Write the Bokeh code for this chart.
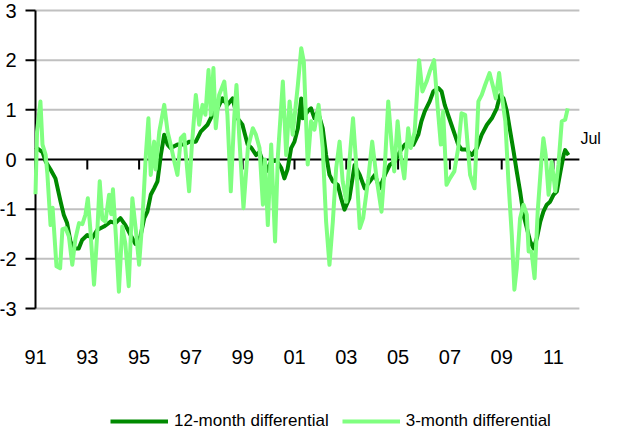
from bokeh.plotting import figure
from bokeh.models import Range1d, Label, Legend, LegendItem
from bokeh.core.properties import value
from bokeh.embed import file_html
from bokeh.resources import INLINE

# ---------------- data ----------------
series_names = ["12-month differential", "3-month differential"]
tick_labels = ["91", "93", "95", "97", "99", "01", "03", "05", "07", "09", "11"]
first_year = 1991
last_year = 2012
y_ticks = [-3, -2, -1, 0, 1, 2, 3]
y_tick_labels = ["-3", "-2", "-1", "0", "1", "2", "3"]
end_label = "Jul"
end_label_value = 0.42

# 12-month differential (decimal year, value)
dark_t = [1991.00, 1991.27, 1991.39, 1991.58, 1991.77, 1991.97,
          1992.09, 1992.22, 1992.35, 1992.48, 1992.67, 1992.80,
          1993.00, 1993.19, 1993.38, 1993.64, 1993.90,
          1994.09, 1994.28, 1994.47, 1994.67, 1994.86,
          1995.05, 1995.20, 1995.32, 1995.45, 1995.58, 1995.71, 1995.84, 1995.97,
          1996.10, 1996.22, 1996.48, 1996.74, 1996.95,
          1997.19, 1997.38, 1997.64, 1997.83,
          1998.03, 1998.22, 1998.41, 1998.61, 1998.80, 1998.99,
          1999.19, 1999.34, 1999.52, 1999.65, 1999.77, 1999.91,
          2000.10, 2000.31, 2000.49, 2000.61, 2000.73, 2000.87,
          2001.00, 2001.13, 2001.26, 2001.32, 2001.51, 2001.64, 2001.77, 2001.90,
          2002.09, 2002.22, 2002.35, 2002.48, 2002.67, 2002.80, 2002.93,
          2003.12, 2003.32, 2003.52, 2003.71, 2003.91,
          2004.10, 2004.29, 2004.49, 2004.68, 2004.87,
          2005.07, 2005.26, 2005.45, 2005.59, 2005.78, 2005.90,
          2006.03, 2006.22, 2006.36, 2006.55, 2006.68, 2006.80, 2006.93,
          2007.06, 2007.19, 2007.32, 2007.46, 2007.64, 2007.85,
          2008.04, 2008.23, 2008.43, 2008.62, 2008.81, 2008.94,
          2009.07, 2009.20, 2009.33, 2009.46, 2009.58, 2009.71, 2009.84, 2009.97,
          2010.10, 2010.23, 2010.36, 2010.49, 2010.61, 2010.74, 2010.87,
          2011.00, 2011.13, 2011.27, 2011.39, 2011.45, 2011.58]
dark_v = [0.25, 0.15, -0.04, -0.20, -0.38, -0.85,
          -1.11, -1.28, -1.65, -1.79, -1.79, -1.62,
          -1.52, -1.58, -1.42, -1.35, -1.25,
          -1.28, -1.18, -1.32, -1.52, -1.70,
          -1.55, -1.18, -1.05, -0.71, -0.58, -0.44, 0.09, 0.50,
          0.30, 0.23, 0.30, 0.30, 0.36,
          0.36, 0.56, 0.70, 0.90,
          1.03, 1.23, 1.10, 1.23, 0.83, 0.70,
          0.30, 0.23, 0.09, 0.15, -0.04, -0.24,
          -0.04, -0.02, -0.17, -0.38, -0.20, 0.23,
          0.36, 0.63, 1.23, 0.83, 0.97, 1.03, 0.83, 0.97,
          0.63, 0.09, -0.31, -0.44, -0.51, -0.78, -1.01,
          -0.78, -0.11, -0.31, -0.58, -0.44,
          -0.31, -0.58, -0.31, -0.11, -0.04,
          0.16, 0.30, 0.36, 0.30, 0.50, 0.77,
          0.97, 1.17, 1.37, 1.44, 1.37, 1.10, 0.90,
          0.70, 0.50, 0.30, 0.20, 0.20, 0.09,
          0.23, 0.50, 0.70, 0.83, 1.03, 1.30,
          1.23, 0.97, 0.56, 0.16, -0.24, -0.64, -1.11, -1.38,
          -1.65, -1.79, -1.58, -1.25, -1.05, -0.91, -0.85,
          -0.71, -0.64, -0.24, 0.09, 0.19, 0.09]

# 3-month differential (decimal year, value)
light_t = [1991.00, 1991.06, 1991.19, 1991.27, 1991.39, 1991.46, 1991.58, 1991.66, 1991.81, 1991.95,
           1992.04, 1992.16, 1992.29, 1992.42, 1992.54, 1992.68, 1992.81, 1992.93,
           1993.02, 1993.12, 1993.26, 1993.38, 1993.48, 1993.58, 1993.70, 1993.84, 1993.92, 1993.99,
           1994.11, 1994.22, 1994.35, 1994.47, 1994.60, 1994.74, 1994.88,
           1995.00, 1995.13, 1995.26, 1995.36, 1995.45, 1995.58, 1995.64, 1995.78, 1995.97,
           1996.10, 1996.22, 1996.36, 1996.48, 1996.61, 1996.74, 1996.93,
           1997.03, 1997.19, 1997.32, 1997.45, 1997.56, 1997.68, 1997.77, 1997.87, 1997.96,
           1998.09, 1998.29, 1998.41, 1998.54, 1998.67, 1998.76, 1998.87,
           1999.03, 1999.20, 1999.39, 1999.51, 1999.65, 1999.78, 1999.86, 1999.97,
           2000.10, 2000.25, 2000.36, 2000.55, 2000.68, 2000.81, 2000.93,
           2001.13, 2001.26, 2001.36, 2001.51, 2001.64, 2001.77, 2001.93,
           2002.09, 2002.22, 2002.35, 2002.48, 2002.61, 2002.74, 2002.86,
           2003.00, 2003.12, 2003.26, 2003.37, 2003.52, 2003.65, 2003.85,
           2004.00, 2004.17, 2004.36, 2004.49, 2004.62, 2004.75, 2004.85, 2004.98,
           2005.10, 2005.24, 2005.39, 2005.49, 2005.64, 2005.81, 2005.94,
           2006.10, 2006.22, 2006.39, 2006.52, 2006.65, 2006.74, 2006.87,
           2007.00, 2007.17, 2007.32, 2007.45, 2007.59, 2007.78, 2007.95,
           2008.10, 2008.23, 2008.36, 2008.53, 2008.68, 2008.77, 2008.90,
           2009.00, 2009.14, 2009.26, 2009.39, 2009.49, 2009.58, 2009.71, 2009.84, 2009.97,
           2010.04, 2010.15, 2010.27, 2010.39, 2010.53, 2010.61, 2010.70, 2010.81, 2010.93,
           2011.07, 2011.19, 2011.32, 2011.45, 2011.55]
light_v = [-0.70, 0.56, 1.17, 0.30, 0.10, -0.30, -1.32, -0.97, -2.15, -2.19,
           -1.40, -1.38, -1.55, -2.12, -1.60, -1.28, -1.30, -1.11,
           -0.78, -1.42, -2.52, -1.52, -0.44, -1.20, -1.25, -0.71, -1.10, -0.60,
           -1.60, -2.66, -1.35, -1.70, -2.55, -0.78, -1.45,
           -2.12, -1.20, 0.09, 0.83, -0.31, 0.36, -0.20, 0.56, 1.10,
           0.56, 0.30, -0.04, -0.31, 0.43, 0.50, -0.64,
           0.23, 1.30, 0.70, 1.10, 0.90, 1.80, 0.90, 1.84, 0.63,
           1.30, 1.57, 0.90, -0.64, 0.83, 1.50, 0.43,
           -0.98, 0.23, 0.63, 0.50, 0.23, -0.91, 0.00, -1.32,
           0.30, -1.65, 0.09, 1.57, 0.09, 1.17, 0.50,
           1.50, 2.24, 1.97, -0.10, 0.77, 0.60, 1.10,
           0.23, -1.25, -2.12, -1.25, -0.17, 0.36, -0.44,
           -0.85, -0.04, 0.83, 0.00, -1.38, -1.18, -0.38,
           0.36, -0.38, -1.05, -0.11, 1.17, 0.30, -0.24, 0.77,
           0.09, -0.38, 0.63, 0.23, 0.56, 2.00, 1.37,
           1.57, 1.77, 2.00, 1.10, 0.30, 0.97, -0.51,
           -0.38, -0.24, 0.23, 0.93, 0.90, -0.31, -0.58,
           1.17, 1.30, 1.50, 1.74, 1.44, 1.23, 1.74,
           1.30, 0.77, -0.44, -1.52, -2.62, -2.19, -1.18, -0.91, -1.11,
           -1.85, -1.85, -2.39, -1.05, -0.04, 0.43, 0.09, -0.71, -0.04,
           -0.64, -0.11, 0.77, 0.80, 1.03]

# ---------------- styling / layout ----------------
FONT = "Liberation Sans"
DARK = "#008a00"
LIGHT = "#80FF80"
GRID = "#c0c0c0"

W, H = 601, 431
LEFT = 35              # pixels left of the value axis
PX_PER_UNIT = 49.67    # vertical scale (pixels per unit)
TOP_PAD = 10           # pixels above the "3" grid line
PX_PER_YEAR = 25.9

y_top = max(y_ticks) + TOP_PAD / PX_PER_UNIT
y_bot = y_top - H / PX_PER_UNIT
x_start = first_year - LEFT / PX_PER_YEAR
x_end = x_start + W / PX_PER_YEAR

tick_years = [first_year + 2 * i for i in range(len(tick_labels))]

p = figure(width=W, height=H, output_backend="svg", toolbar_location=None,
           x_range=Range1d(x_start, x_end), y_range=Range1d(y_bot, y_top),
           min_border=0, min_border_left=0, min_border_right=0,
           min_border_top=0, min_border_bottom=0)
p.outline_line_color = None
p.background_fill_color = "white"
p.border_fill_color = "white"
p.xgrid.visible = False
p.ygrid.visible = False
p.xaxis.visible = False
p.yaxis.visible = False

# horizontal grid lines (only across the data span)
grid_y = [t for t in y_ticks if t != 0]
p.segment(x0=[first_year] * len(grid_y), y0=grid_y, x1=[last_year] * len(grid_y), y1=grid_y,
          line_color=GRID, line_width=2)

# value axis: line, outward ticks, labels
y_tick_len = 10 / PX_PER_YEAR
p.segment(x0=[first_year], y0=[min(y_ticks)], x1=[first_year], y1=[max(y_ticks)],
          line_color="black", line_width=2)
p.segment(x0=[first_year - y_tick_len] * len(y_ticks), y0=y_ticks,
          x1=[first_year] * len(y_ticks), y1=y_ticks, line_color="black", line_width=2)
p.text(x=[first_year - 19 / PX_PER_YEAR] * len(y_ticks), y=y_ticks, text=y_tick_labels,
       text_align="right", text_baseline="middle", text_font=value(FONT),
       text_font_size="20px", text_color="black")

# category axis crossing at zero, with downward tick marks
p.segment(x0=[first_year], y0=[0], x1=[last_year], y1=[0], line_color="black", line_width=2)
x_tick_len = 10 / PX_PER_UNIT
p.segment(x0=tick_years, y0=[0] * len(tick_years), x1=tick_years,
          y1=[-x_tick_len] * len(tick_years), line_color="black", line_width=2)

# category labels below the plot area
label_y = min(y_ticks) - 48 / PX_PER_UNIT
p.text(x=tick_years, y=[label_y] * len(tick_years), text=tick_labels,
       text_align="center", text_baseline="middle", text_font=value(FONT),
       text_font_size="20px", text_color="black")

r1 = p.line(dark_t, dark_v, line_color=DARK, line_width=4, line_join="round")
r2 = p.line(light_t, light_v, line_color=LIGHT, line_width=4, line_join="round")

legend = Legend(items=[LegendItem(label=series_names[0], renderers=[r1]),
                       LegendItem(label=series_names[1], renderers=[r2])],
                orientation="horizontal", location=(LEFT + 75, 0), padding=0, margin=0,
                spacing=13, glyph_width=58, glyph_height=16, label_height=16,
                label_standoff=6, label_text_font=FONT, label_text_font_size="17px",
                label_text_color="black", border_line_color=None, background_fill_alpha=0)
p.add_layout(legend)

p.add_layout(Label(x=last_year, y=end_label_value, x_offset=1, text=end_label,
                   text_font=FONT, text_font_size="16px", text_baseline="middle",
                   text_color="black"))

open("out.html", "w").write(file_html(p, INLINE))
